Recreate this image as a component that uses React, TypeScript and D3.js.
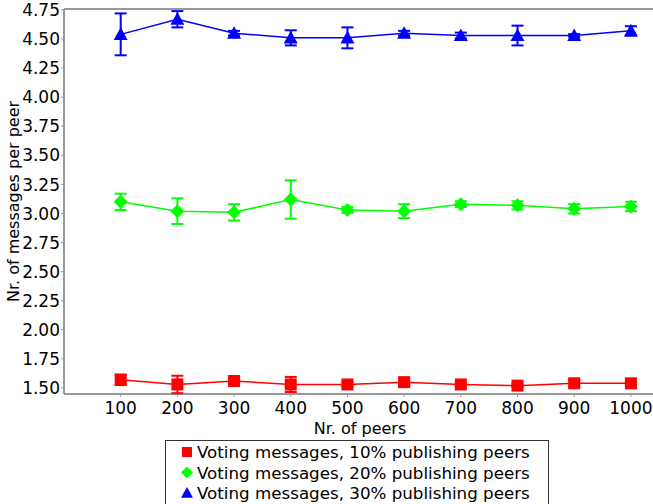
import React from 'react';
import * as d3 from 'd3';

const peers = [100, 200, 300, 400, 500, 600, 700, 800, 900, 1000];

const red10 = [1.57, 1.53, 1.56, 1.53, 1.53, 1.55, 1.53, 1.52, 1.54, 1.54];
const red10Err = [0.045, 0.075, 0.02, 0.065, 0.02, 0.03, 0.012, 0.012, 0.03, 0.012];

const green20 = [3.10, 3.02, 3.01, 3.12, 3.03, 3.02, 3.08, 3.07, 3.04, 3.06];
const green20Err = [0.07, 0.11, 0.07, 0.165, 0.025, 0.06, 0.025, 0.035, 0.04, 0.04];

const blue30 = [4.54, 4.67, 4.55, 4.51, 4.51, 4.55, 4.53, 4.53, 4.53, 4.57];
const blue30Err = [0.18, 0.07, 0.02, 0.065, 0.09, 0.02, 0.025, 0.085, 0.012, 0.04];

const yTicks = [1.5, 1.75, 2.0, 2.25, 2.5, 2.75, 3.0, 3.25, 3.5, 3.75, 4.0, 4.25, 4.5, 4.75];

const seriesNames = [
  'Voting messages, 10% publishing peers',
  'Voting messages, 20% publishing peers',
  'Voting messages, 30% publishing peers',
];

const width = 653;
const height = 504;
const margin = { left: 64, top: 9, right: 0, bottom: 110 };

type Shape = 'square' | 'diamond' | 'triangle';

const Marker: React.FC<{ shape: Shape; x: number; y: number; color: string; size?: number }> = ({ shape, x, y, color, size = 6 }) => {
  if (shape === 'square') {
    return <rect x={x - size} y={y - size} width={size * 2} height={size * 2} fill={color} />;
  }
  if (shape === 'diamond') {
    const s = size + 1;
    return <path d={`M${x},${y - s}L${x + s},${y}L${x},${y + s}L${x - s},${y}Z`} fill={color} />;
  }
  const s = size + 1;
  return <path d={`M${x},${y - s}L${x + s},${y + s * 0.8}L${x - s},${y + s * 0.8}Z`} fill={color} />;
};

const App: React.FC = () => {
  const x = d3.scaleLinear().domain([0, 1039]).range([margin.left, width - margin.right]);
  const y = d3.scaleLinear().domain([1.448, 4.758]).range([height - margin.bottom, margin.top]);

  const series = [
    { name: seriesNames[0], values: red10, errs: red10Err, color: '#ff0000', shape: 'square' as Shape },
    { name: seriesNames[1], values: green20, errs: green20Err, color: '#00ff00', shape: 'diamond' as Shape },
    { name: seriesNames[2], values: blue30, errs: blue30Err, color: '#0000ff', shape: 'triangle' as Shape },
  ];

  const line = d3.line<number>()
    .x((_, i) => x(peers[i]))
    .y(d => y(d));

  const font = 'DejaVu Sans, sans-serif';
  const axisColor = '#999999';
  const x0 = x.range()[0];
  const x1 = x.range()[1];
  const yBottom = y.range()[0];
  const yTop = y.range()[1];

  return (
    <svg width={width} height={height} style={{ position: 'absolute', left: 0, top: 0 }} fontFamily={font}>
      <rect width={width} height={height} fill="white" />
      {/* axes */}
      <line x1={x0} x2={x1} y1={yTop} y2={yTop} stroke={axisColor} strokeWidth={2} />
      <line x1={x0} x2={x0} y1={yTop} y2={yBottom} stroke={axisColor} strokeWidth={2} />
      <line x1={x0} x2={x1} y1={yBottom} y2={yBottom} stroke={axisColor} strokeWidth={2} />
      {yTicks.map(t => (
        <g key={t}>
          <line x1={x0 - 3} x2={x0} y1={y(t)} y2={y(t)} stroke={axisColor} />
          <text x={x0 - 4} y={y(t)} dy="0.36em" textAnchor="end" fontSize={17}>{t.toFixed(2)}</text>
        </g>
      ))}
      {peers.map(p => (
        <g key={p}>
          <line x1={x(p)} x2={x(p)} y1={yBottom} y2={yBottom + 3} stroke={axisColor} />
          <text x={x(p)} y={yBottom + 20} textAnchor="middle" fontSize={17}>{p}</text>
        </g>
      ))}
      <text x={360} y={yBottom + 40} textAnchor="middle" fontSize={16}>Nr. of peers</text>
      <text transform={`translate(19,${(yTop + yBottom) / 2}) rotate(-90)`} textAnchor="middle" fontSize={16}>Nr. of messages per peer</text>

      {series.map(s => (
        <g key={s.name}>
          <path d={line(s.values) || ''} fill="none" stroke={s.color} strokeWidth={1.5} />
          {s.values.map((v, i) => {
            const cx = x(peers[i]);
            const top = y(v + s.errs[i]);
            const bot = y(v - s.errs[i]);
            return (
              <g key={i} stroke={s.color} strokeWidth={2}>
                <line x1={cx} x2={cx} y1={top} y2={bot} />
                <line x1={cx - 6} x2={cx + 6} y1={top} y2={top} />
                <line x1={cx - 6} x2={cx + 6} y1={bot} y2={bot} />
              </g>
            );
          })}
          {s.values.map((v, i) => (
            <Marker key={i} shape={s.shape} x={x(peers[i])} y={y(v)} color={s.color} />
          ))}
        </g>
      ))}

      {/* legend */}
      <g>
        <rect x={165.5} y={440.5} width={383} height={70} fill="white" stroke="#333" strokeWidth={1} />
        {series.map((s, i) => (
          <g key={s.name} transform={`translate(0,${452 + i * 20.5})`}>
            <Marker shape={s.shape} x={187} y={0} color={s.color} size={5} />
            <text x={197} y={0} dy="0.36em" fontSize={16.7}>{s.name}</text>
          </g>
        ))}
      </g>
    </svg>
  );
};

export default App;
